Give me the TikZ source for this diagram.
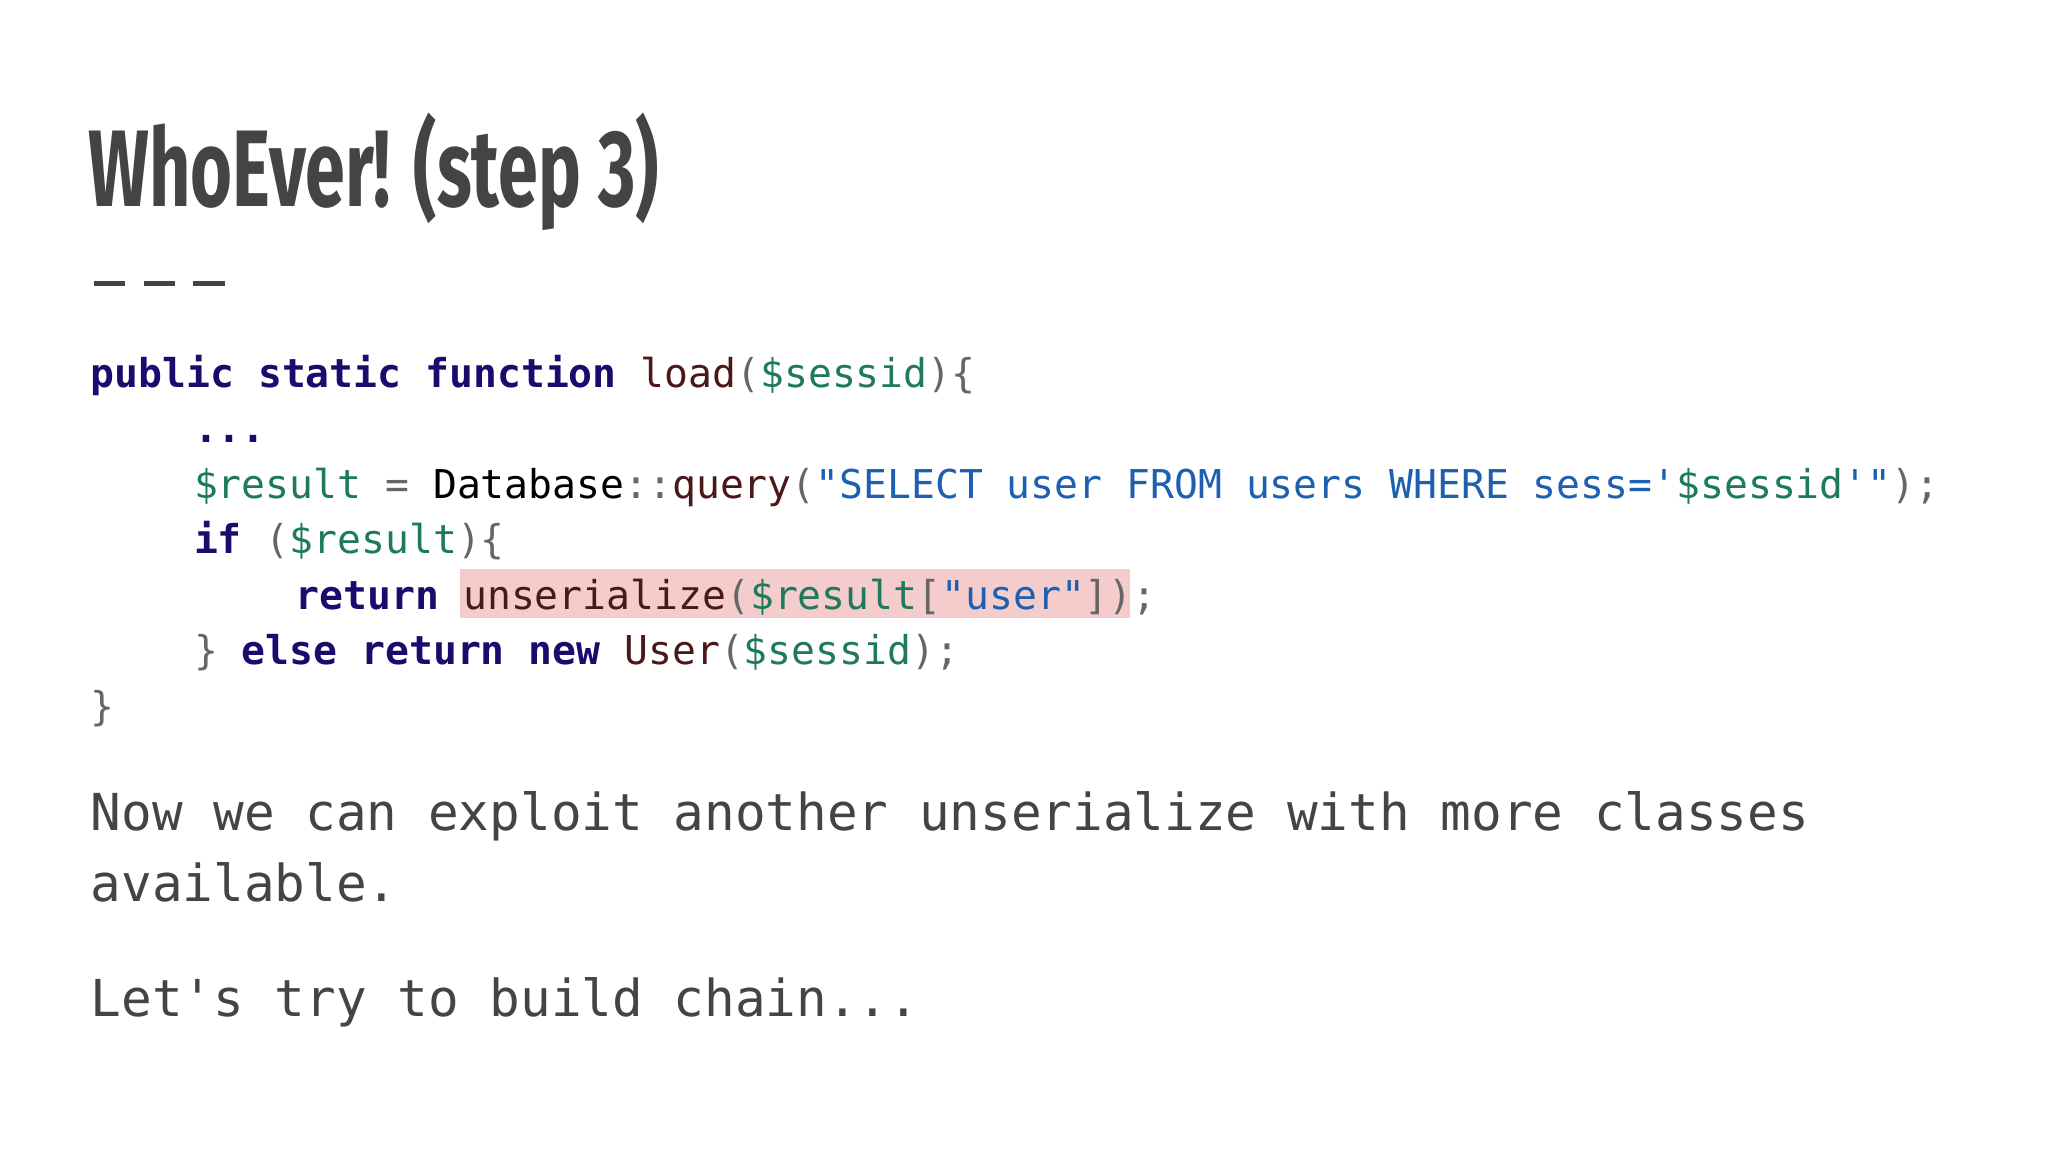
\documentclass[tikz,border=0pt]{standalone}
\usepackage{fontspec}
\usepackage{xcolor}
\newfontfamily\codefont{DejaVu Sans Mono}
\newfontfamily\titlefont{Fira Sans}
\definecolor{ckwc}{HTML}{1A0C6D}
\definecolor{cvarc}{HTML}{1E7A5C}
\definecolor{cstrc}{HTML}{1D5FB0}
\definecolor{cfnc}{HTML}{4A1818}
\definecolor{cpnc}{HTML}{666666}
\definecolor{txtc}{HTML}{444444}
\definecolor{hlc}{HTML}{F4CCCC}
\newcommand\ckw[1]{\textcolor{ckwc}{\bfseries #1}}
\newcommand\cvar[1]{\textcolor{cvarc}{#1}}
\newcommand\cstr[1]{\textcolor{cstrc}{#1}}
\newcommand\cfn[1]{\textcolor{cfnc}{#1}}
\newcommand\cpn[1]{\textcolor{cpnc}{#1}}
\tikzset{
  codeline/.style={anchor=base west,inner sep=0pt,font=\codefont\fontsize{11.3}{13}\selectfont,text=black},
  bodyline/.style={anchor=base west,inner sep=0pt,font=\codefont\fontsize{14.5}{17}\selectfont,text=txtc},
}
\begin{document}
\begin{tikzpicture}[x=0.013061cm,y=-0.013061cm]
\useasboundingbox[fill=white] (0,0) rectangle (1568,882);
\node[anchor=base west,inner sep=0pt,text=txtc] (title) at (67,158)
  {\scalebox{0.66}[1]{\titlefont\bfseries\fontsize{31}{36}\selectfont WhoEver! (step 3)}};
\draw[txtc,line width=1.6pt] (72,217) -- (96,217) (110,217) -- (134,217) (148,217) -- (172,217);
\fill[hlc] (352,436) rectangle (865,473);
\node[codeline] (l1) at (69,297) {\ckw{public static function} \cfn{load}\cpn{(}\cvar{\$sessid}\cpn{)\{}};
\node[codeline] (l2) at (148,339) {\ckw{...}};
\node[codeline] (l3) at (148,382) {\cvar{\$result} \cpn{=} Database\cpn{::}\cfn{query}\cpn{(}\cstr{"SELECT user FROM users WHERE sess='}\cvar{\$sessid}\cstr{'"}\cpn{);}};
\node[codeline] (l4) at (148,424) {\ckw{if} \cpn{(}\cvar{\$result}\cpn{)\{}};
\node[codeline] (l5) at (226,467) {\ckw{return} \cfn{unserialize}\cpn{(}\cvar{\$result}\cpn{[}\cstr{"user"}\cpn{])}\cpn{;}};
\node[codeline] (l6) at (148,509) {\cpn{\}} \ckw{else return new} \cfn{User}\cpn{(}\cvar{\$sessid}\cpn{);}};
\node[codeline] (l7) at (69,552) {\cpn{\}}};
\node[bodyline] (p1) at (69,636) {Now we can exploit another unserialize with more classes};
\node[bodyline] (p2) at (69,690) {available.};
\node[bodyline] (p3) at (69,778) {Let's try to build chain...};
\end{tikzpicture}
\end{document}
